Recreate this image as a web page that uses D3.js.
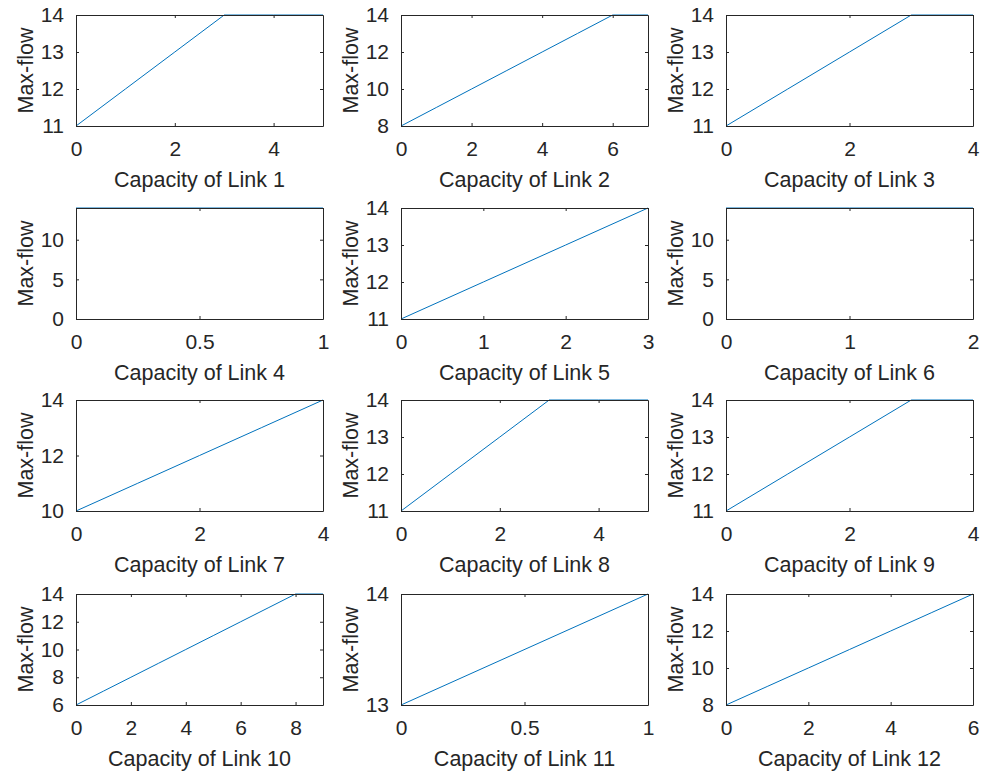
<!DOCTYPE html>
<html>
<head>
<meta charset="utf-8">
<script src="https://cdn.jsdelivr.net/npm/d3@7"></script>
<style>
  body { margin: 0; background: #fff; }
  svg text { font-family: "Liberation Sans", Arial, sans-serif; fill: #262626; }
</style>
</head>
<body>
<div id="chart"></div>
<script>
// capacity of each link (x values) and resulting max-flow (y values)
const linkCaps = [
  [0, 1, 2, 3, 4, 5],
  [0, 1, 2, 3, 4, 5, 6, 7],
  [0, 1, 2, 3, 4],
  [0, 1],
  [0, 1, 2, 3],
  [0, 1, 2],
  [0, 1, 2, 3, 4],
  [0, 1, 2, 3, 4, 5],
  [0, 1, 2, 3, 4],
  [0, 1, 2, 3, 4, 5, 6, 7, 8, 9],
  [0, 1],
  [0, 1, 2, 3, 4, 5, 6]
];
const maxFlow = [
  [11, 12, 13, 14, 14, 14],
  [8, 9, 10, 11, 12, 13, 14, 14],
  [11, 12, 13, 14, 14],
  [14, 14],
  [11, 12, 13, 14],
  [14, 14, 14],
  [10, 11, 12, 13, 14],
  [11, 12, 13, 14, 14, 14],
  [11, 12, 13, 14, 14],
  [6, 7, 8, 9, 10, 11, 12, 13, 14, 14],
  [13, 14],
  [8, 9, 10, 11, 12, 13, 14]
];
// axis limits and ticks
const xLims = [[0,5],[0,7],[0,4],[0,1],[0,3],[0,2],[0,4],[0,5],[0,4],[0,9],[0,1],[0,6]];
const yLims = [[11,14],[8,14],[11,14],[0,14],[11,14],[0,14],[10,14],[11,14],[11,14],[6,14],[13,14],[8,14]];
const xTicks = [
  [0,2,4],[0,2,4,6],[0,2,4],[0,0.5,1],[0,1,2,3],[0,1,2],
  [0,2,4],[0,2,4],[0,2,4],[0,2,4,6,8],[0,0.5,1],[0,2,4,6]
];
const yTicks = [
  [11,12,13,14],[8,10,12,14],[11,12,13,14],[0,5,10],[11,12,13,14],[0,5,10],
  [10,12,14],[11,12,13,14],[11,12,13,14],[6,8,10,12,14],[13,14],[8,10,12,14]
];

var W = 982, H = 774;
var colLeft = [76, 401, 726];
var rowTop = [15, 208, 400, 594];
var pw = 247, ph = 111;

var svg = d3.select("#chart").append("svg")
    .attr("width", W)
    .attr("height", H);

linkCaps.forEach(function (xs, i) {
    var col = i % 3, row = Math.floor(i / 3);
    var g = svg.append("g")
        .attr("transform", "translate(" + colLeft[col] + "," + rowTop[row] + ")");

    var x = d3.scaleLinear().domain(xLims[i]).range([0, pw]);
    var y = d3.scaleLinear().domain(yLims[i]).range([ph, 0]);

    var data = xs.map(function (d, k) { return { cap: d, flow: maxFlow[i][k] }; });

    // the line
    g.append("path")
        .datum(data)
        .attr("fill", "none")
        .attr("stroke", "#0072BD")
        .attr("stroke-width", 1)
        .attr("d", d3.line()
            .x(function (d) { return x(d.cap); })
            .y(function (d) { return y(d.flow); }));

    // bottom & left axes with labels, ticks pointing inside
    var bx = g.append("g")
        .attr("transform", "translate(0," + ph + ")")
        .call(d3.axisBottom(x).tickValues(xTicks[i]).tickFormat(d3.format("~g"))
            .tickSizeInner(-3).tickSizeOuter(0).tickPadding(15));
    var ly = g.append("g")
        .call(d3.axisLeft(y).tickValues(yTicks[i]).tickFormat(d3.format("~g"))
            .tickSizeInner(-3).tickSizeOuter(0).tickPadding(12));
    // top & right axes, ticks only
    var tx = g.append("g")
        .call(d3.axisTop(x).tickValues(xTicks[i]).tickFormat("")
            .tickSizeInner(-3).tickSizeOuter(0));
    var ry = g.append("g")
        .attr("transform", "translate(" + pw + ",0)")
        .call(d3.axisRight(y).tickValues(yTicks[i]).tickFormat("")
            .tickSizeInner(-3).tickSizeOuter(0));

    [bx, ly, tx, ry].forEach(function (a) {
        a.select(".domain").attr("stroke", "#262626");
        a.selectAll(".tick line").attr("stroke", "#262626");
        a.selectAll("text").attr("font-size", 21).attr("fill", "#262626")
            .attr("font-family", "'Liberation Sans', Arial, sans-serif");
    });

    // axis titles
    g.append("text")
        .attr("x", pw / 2)
        .attr("y", ph + 60.5)
        .attr("text-anchor", "middle")
        .attr("font-size", 21.5)
        .text("Capacity of Link " + (i + 1));
    g.append("text")
        .attr("transform", "translate(-43," + (ph / 2) + ") rotate(-90)")
        .attr("text-anchor", "middle")
        .attr("font-size", 21.5)
        .text("Max-flow");
});
</script>
</body>
</html>
